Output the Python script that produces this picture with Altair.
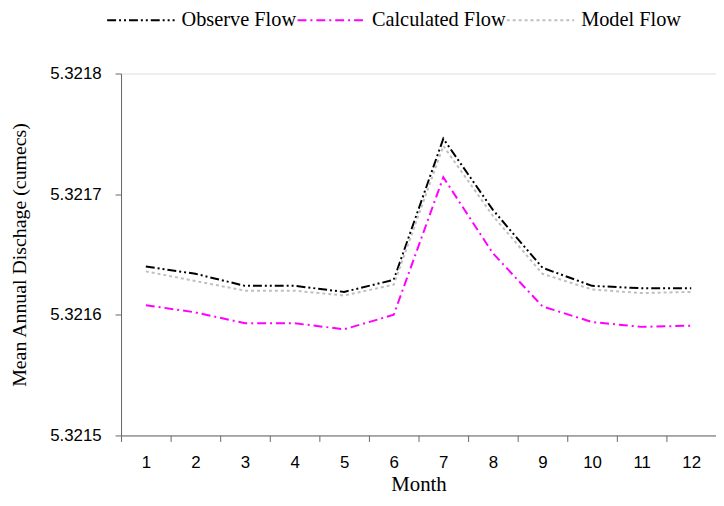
import altair as alt
import pandas as pd

months = [1, 2, 3, 4, 5, 6, 7, 8, 9, 10, 11, 12]
observe = [5.321640, 5.321634, 5.321624, 5.321624, 5.321619, 5.321629,
           5.321746, 5.321687, 5.321639, 5.321624, 5.321622, 5.321622]
calculated = [5.321608, 5.321602, 5.321593, 5.321593, 5.321588, 5.321600,
              5.321714, 5.321651, 5.321607, 5.321594, 5.321590, 5.321591]
model = [5.321636, 5.321628, 5.321620, 5.321620, 5.321616, 5.321625,
         5.321740, 5.321682, 5.321634, 5.321621, 5.321618, 5.321619]
series_names = ["Observe Flow", "Calculated Flow", "Model Flow"]
series_colors = ["#000000", "#FF00FF", "#BFBFBF"]
series_dash = [[9, 3, 2, 3, 2, 3], [9, 4, 2, 4], [3, 3]]
y_ticks = [5.3215, 5.3216, 5.3217, 5.3218]

rows = []
for name, vals in zip(series_names, [observe, calculated, model]):
    for m, v in zip(months, vals):
        rows.append({"Month": m, "Value": v, "Series": name})
df = pd.DataFrame(rows)

legend_kw = dict(title=None, orient="none", legendX=-15, legendY=-89,
                 direction="horizontal", symbolType="stroke",
                 symbolSize=4624, symbolStrokeWidth=2,
                 labelFont="Liberation Serif", labelFontSize=20.5,
                 labelColor="black", labelOffset=6, columnPadding=-5)

chart = alt.Chart(df).mark_line(strokeWidth=2).encode(
    x=alt.X("Month:O", title="Month",
            scale=alt.Scale(paddingInner=0, paddingOuter=0),
            axis=alt.Axis(labelAngle=0, tickBand="extent", labelFont="Liberation Sans",
                          labelFontSize=17, labelColor="black", labelPadding=13,
                          titleFont="Liberation Serif", titleFontSize=21,
                          titleFontWeight="normal", titleColor="black", titlePadding=4,
                          domainColor="#666666", tickColor="#666666", tickSize=6)),
    y=alt.Y("Value:Q", title="Mean Annual Dischage (cumecs)",
            scale=alt.Scale(domain=[5.3215, 5.3218], zero=False, nice=False),
            axis=alt.Axis(values=y_ticks, format=".4f", grid=False,
                          labelFont="Liberation Sans", labelFontSize=17, labelColor="black",
                          labelPadding=14,
                          titleFont="Liberation Serif", titleFontSize=20,
                          titleFontWeight="normal", titleColor="black", titlePadding=20,
                          domainColor="#666666", tickColor="#666666", tickSize=6)),
    color=alt.Color("Series:N", sort=series_names,
                    scale=alt.Scale(domain=series_names, range=series_colors),
                    legend=alt.Legend(**legend_kw)),
    strokeDash=alt.StrokeDash("Series:N", sort=series_names,
                              scale=alt.Scale(domain=series_names, range=series_dash),
                              legend=alt.Legend(**legend_kw)),
).properties(
    width=600, height=365,
    padding={"left": 114, "top": 64, "right": 0, "bottom": 61},
    autosize=alt.AutoSizeParams(type="none"),
).configure_view(stroke=None).configure(background="white")

chart.save("out.html", embed_options={"renderer": "svg", "actions": False})
